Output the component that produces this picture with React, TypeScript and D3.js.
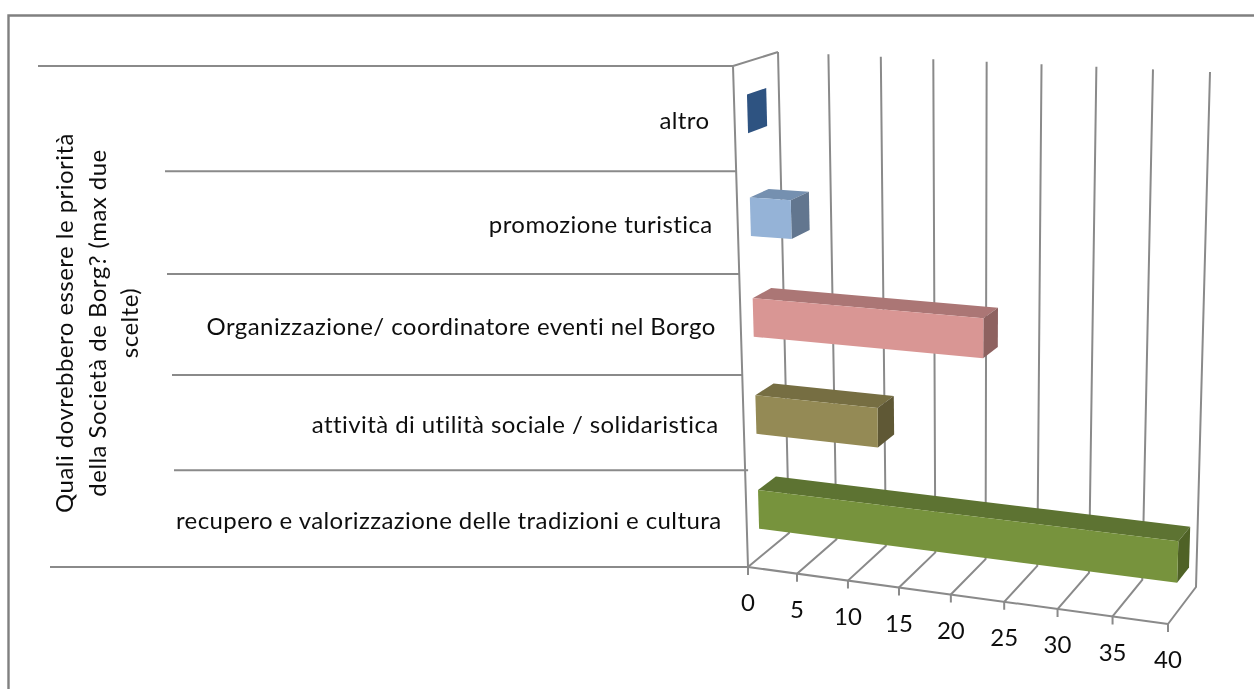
import React from "react";
import * as d3 from "d3";

const categories = [
  "recupero e valorizzazione delle tradizioni e cultura",
  "attività di utilità sociale / solidaristica",
  "Organizzazione/ coordinatore eventi nel Borgo",
  "promozione turistica",
  "altro",
];
const values = [40, 12, 22, 4, 0];
const frontColors = ["#77933c", "#948a54", "#d99694", "#95b3d7", "#2f5281"];
const topColors = ["#5d7330", "#766e43", "#ab7675", "#7590b0", "#2f5281"];
const sideColors = ["#4f6228", "#5e5836", "#8e6261", "#62768f", "#2f5281"];
const ticks = [0, 5, 10, 15, 20, 25, 30, 35, 40];
const titleLines = [
  "Quali dovrebbero essere le priorità",
  "della Società de Borg? (max due",
  "scelte)",
];
const separatorLeft = [50, 174, 172, 167, 165, 38];

const GRID = "#8a8a8a";
const FONT = "Lato, 'Open Sans', sans-serif";
const TEXT = "#111";

// measured perspective spacing along the value axis and the category axis
const vScale = d3.scaleLinear<number>().domain(ticks)
  .range([0, 0.1167, 0.238, 0.3595, 0.483, 0.61, 0.737, 0.868, 1]);
const hScale = d3.scaleLinear<number>().domain([0, 1, 2, 3, 4, 5])
  .range([0, 0.193, 0.383, 0.585, 0.79, 1]);

// corners of the 3D box
const C = {
  f0b: [748, 567], f1b: [1168, 624], f0t: [733, 66], f1t: [1186, 87],
  b0b: [789, 533], b1b: [1196, 587], b0t: [778, 52], b1t: [1210, 72],
};
const lerp = (a: number[], b: number[], t: number) => [a[0] + (b[0] - a[0]) * t, a[1] + (b[1] - a[1]) * t];
function P(v: number, d: number, h: number): number[] {
  const t = vScale(v);
  const bottom = lerp(lerp(C.f0b, C.f1b, t), lerp(C.b0b, C.b1b, t), d);
  const top = lerp(lerp(C.f0t, C.f1t, t), lerp(C.b0t, C.b1t, t), d);
  return lerp(bottom, top, h);
}
const poly = (pts: number[][]) => pts.map((p) => p.join(",")).join(" ");
const D0 = 0.29;
const D1 = 0.72;
const BAR = 0.078;

export default function App() {
  return (
    <svg width={1254} height={689} style={{ position: "absolute", left: 0, top: 0, background: "#fff" }}>
      <defs>
        <filter id="soft" x="0" y="0" width="100%" height="100%" filterUnits="objectBoundingBox">
          <feGaussianBlur stdDeviation="0.55" />
        </filter>
      </defs>
      <g filter="url(#soft)">
        <rect width={1254} height={689} fill="#fff" />
        <path d="M8.5,689 L8.5,15.5 L1254,15.5" fill="none" stroke="#808080" strokeWidth={2.4} />
        <g stroke={GRID} strokeWidth={2} fill="none">
          {ticks.map((v) => {
            const a = P(v, 0, 0), b = P(v, 1, 0), c = P(v, 1, 1);
            return <polyline key={v} points={poly([[a[0], a[1] + 8], a, b, c])} />;
          })}
          <polyline points={poly([P(0, 0, 0), P(40, 0, 0)])} />
          <polyline points={poly([P(0, 0, 0), P(0, 0, 1), P(0, 1, 1)])} />
          {separatorLeft.map((x, i) => {
            const p = P(0, 0, hScale(i));
            return <line key={i} x1={x} x2={p[0] + (i === 1 ? 3 : 0)} y1={p[1]} y2={p[1]} />;
          })}
        </g>
        {categories.map((_, i) => {
          const c = hScale(i + 0.5);
          const lo = c - BAR / 2, hi = c + BAR / 2, v = values[i];
          return (
            <g key={i}>
              <polygon fill={topColors[i]} points={poly([P(0, D0, hi), P(v, D0, hi), P(v, D1, hi), P(0, D1, hi)])} />
              <polygon fill={sideColors[i]} points={poly([P(v, D0, hi), P(v, D1, hi), P(v, D1, lo), P(v, D0, lo)])} />
              <polygon fill={frontColors[i]} points={poly([P(0, D0, lo), P(v, D0, lo), P(v, D0, hi), P(0, D0, hi)])} />
            </g>
          );
        })}
        <g fontFamily={FONT} fontSize={24} fill={TEXT}>
          {categories.map((name, i) => {
            const p = P(0, 0, hScale(i + 0.5));
            return (
              <text key={name} x={p[0] - 25} y={p[1] + 4} textAnchor="end" dominantBaseline="middle" letterSpacing={0.42}>{name}</text>
            );
          })}
          {ticks.map((v) => {
            const p = P(v, 0, 0);
            return (
              <text key={v} x={p[0]} y={p[1] + 38} textAnchor="middle" dominantBaseline="middle">{v}</text>
            );
          })}
          {titleLines.map((line, i) => {
            const x = d3.scaleLinear().domain([0, 2]).range([67, 132])(i);
            return (
              <text key={line} transform={`translate(${x},323) rotate(-90)`} textAnchor="middle" dominantBaseline="middle" letterSpacing={0.46}>{line}</text>
            );
          })}
        </g>
      </g>
    </svg>
  );
}
